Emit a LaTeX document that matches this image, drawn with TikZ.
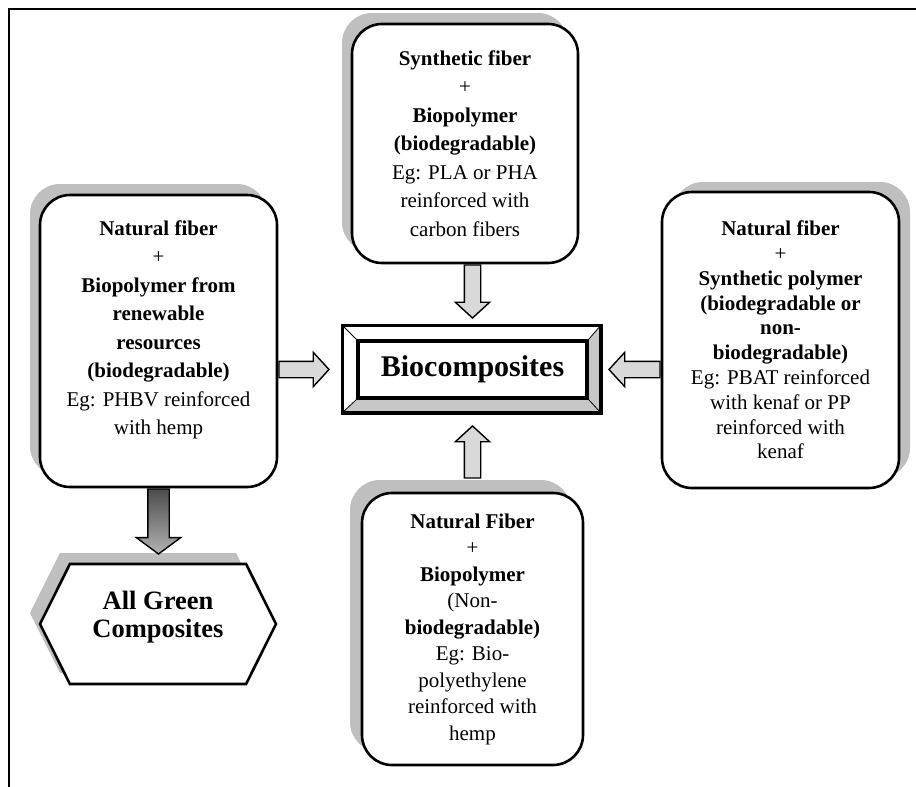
\documentclass[tikz,border=0pt]{standalone}
\usepackage{fontspec}
\setmainfont{Liberation Serif}
\usetikzlibrary{shapes.arrows,shapes.symbols,shadows,backgrounds}

\tikzset{
  card/.style={draw, line width=2.6pt, rounded corners=30pt, fill=white, align=center,
    inner sep=0pt, font=\fontsize{21}{28.5}\selectfont},
  shadowul/.style={drop shadow={shadow xshift=-10pt, shadow yshift=11pt, fill=black!25, opacity=1}},
  shadowur/.style={drop shadow={shadow xshift=11pt, shadow yshift=10pt, fill=black!25, opacity=1}},
  hexbox/.style={signal, signal to=west and east, signal pointer angle=127, draw, line width=2.6pt,
    fill=white, minimum width=236pt, minimum height=120pt, inner sep=0pt, align=center,
    font=\bfseries\fontsize{26.5}{28}\selectfont},
  biobox/.style={draw, line width=3.5pt, fill=white, minimum width=229pt, minimum height=57pt,
    font=\bfseries\fontsize{30}{32}\selectfont},
  fatarrow/.style={single arrow, draw, line width=1.4pt, fill=black!15, inner xsep=0pt,
    inner ysep=7.5pt, single arrow head extend=9pt, single arrow tip angle=95,
    single arrow head indent=0pt},
  darkarrow/.style={fatarrow, inner ysep=10pt, single arrow head extend=11.5pt,
    single arrow tip angle=107, top color=black!70, bottom color=black!30}
}

\begin{document}
\begin{tikzpicture}[x=1pt, y=-1pt]
	\useasboundingbox (0,0) rectangle (916,787);
	\draw[line width=2.5pt] (9,787) |- (916,9);

	\node[card, shadowul, minimum width=226pt, minimum height=239pt] (syn) at (465,143.5)
		{\textbf{Synthetic fiber}\\+\\\textbf{Biopolymer}\\\textbf{(biodegradable)}\\Eg: PLA or PHA\\reinforced with\\carbon fibers};
	\node[card, shadowul, minimum width=237pt, minimum height=292pt] (nat) at (158.5,341)
		{\textbf{Natural fiber}\\+\\\textbf{Biopolymer from}\\\textbf{renewable}\\\textbf{resources}\\\textbf{(biodegradable)}\\Eg: PHBV reinforced\\with hemp\rule[-27pt]{0pt}{0pt}};
	\node[card, shadowur, font=\fontsize{21}{24.8}\selectfont, minimum width=237pt, minimum height=296pt] (syp) at (780.5,340)
		{\textbf{Natural fiber}\\+\\\textbf{Synthetic polymer}\\\textbf{(biodegradable or}\\\textbf{non-}\\\textbf{biodegradable)}\\Eg: PBAT reinforced\\with kenaf or PP\\reinforced with\\kenaf};
	\node[card, drop shadow={shadow xshift=-12pt, shadow yshift=13pt, fill=black!25, opacity=1},
		font=\fontsize{21}{26.5}\selectfont, minimum width=221pt, minimum height=272pt] (bbox) at (472.5,629)
		{\textbf{Natural Fiber}\\+\\\textbf{Biopolymer}\\(Non-\\\textbf{biodegradable)}\\Eg: Bio-\\polyethylene\\reinforced with\\hemp};
	\node[hexbox, shadowul] (green) at (158,624) {All Green\\Composites\rule[-19pt]{0pt}{0pt}};

	\node[biobox] (bio) at (472.5,369.5) {Biocomposites};
	\begin{scope}[on background layer]
		\coordinate (bio-a) at ([shift={(-14,-14)}]bio.north west);
		\coordinate (bio-b) at ([shift={(12,13)}]bio.south east);
		\fill[black!22] (bio-a) rectangle (bio-b);
		\fill[white] (bio-a) -- (bio-a -| bio-b) -- (bio.north east) -- (bio.north west)
			-- (bio.south west) -- (bio-a |- bio-b) -- cycle;
		\draw[line width=0.8pt] (bio-a) -- (bio.north west) (bio-a -| bio-b) -- (bio.north east)
			(bio-b) -- (bio.south east) (bio-a |- bio-b) -- (bio.south west);
		\draw[line width=3.5pt] (bio-a) rectangle (bio-b);
	\end{scope}

	\coordinate (bb-top) at ([shift={(0,-13)}]bbox.north);
	\node[fatarrow, rotate=-90, minimum height=53pt, anchor=tail] (a-syn) at (syn.south -| bio.north) {};
	\node[fatarrow, minimum height=50pt, anchor=tail] (a-nat) at (nat.east |- bio.west) {};
	\node[fatarrow, rotate=180, minimum height=51pt, anchor=tail] (a-syp) at (syp.west |- bio.east) {};
	\node[fatarrow, rotate=90, minimum height=52pt, anchor=tail] (a-bbox) at (bb-top -| bio.south) {};
	\node[darkarrow, rotate=-90, minimum height=65pt, anchor=tail] (a-green) at (nat.south) {};
\end{tikzpicture}
\end{document}
